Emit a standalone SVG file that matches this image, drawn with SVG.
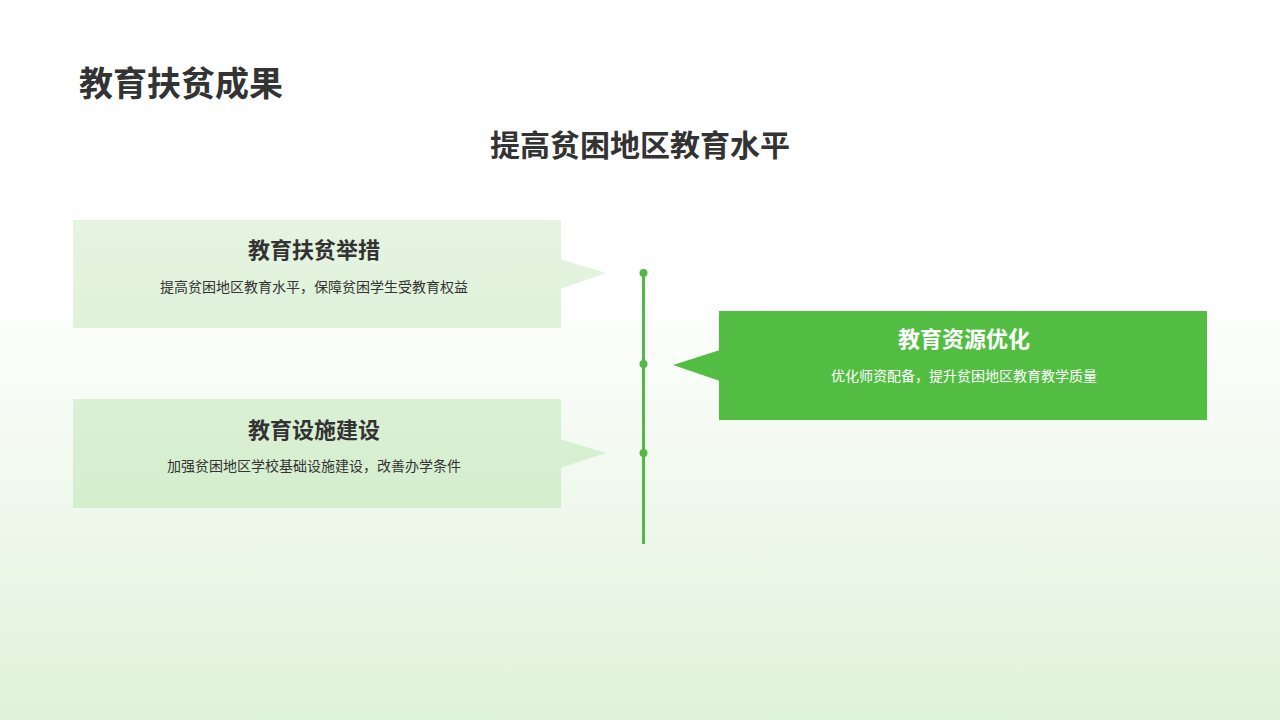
<svg xmlns="http://www.w3.org/2000/svg" width="1280" height="720" viewBox="0 0 1280 720">
<defs>
<linearGradient id="bg" x1="0" y1="0" x2="0" y2="1">
<stop offset="0.4" stop-color="#ffffff"/>
<stop offset="1" stop-color="#dff2da"/>
</linearGradient>
<linearGradient id="lb" gradientUnits="userSpaceOnUse" x1="0" y1="220" x2="0" y2="508">
<stop offset="0" stop-color="#e6f4e2"/>
<stop offset="1" stop-color="#d4eecd"/>
</linearGradient>
</defs>
<style>
text{font-family:"Noto Sans CJK SC","Noto Sans",sans-serif}
.h{font-size:22px;font-weight:bold;fill:#333;text-anchor:middle}
.d{font-size:14px;fill:#333;text-anchor:middle}
.box{fill:url(#lb)}
</style>
<rect width="1280" height="720" fill="url(#bg)"/>
<text x="79" y="96" font-size="34" font-weight="bold" fill="#333">教育扶贫成果</text>
<text x="640" y="156" font-size="30" font-weight="bold" fill="#333" text-anchor="middle">提高贫困地区教育水平</text>
<g id="connectors">
<line x1="643.5" y1="273" x2="643.5" y2="544" stroke="#52b944" stroke-width="3"/>
<circle cx="643.5" cy="273" r="4" fill="#52b944"/>
<circle cx="643.5" cy="364" r="4" fill="#52b944"/>
<circle cx="643.5" cy="453" r="4" fill="#52b944"/>
</g>
<g id="n1">
<rect class="box" x="73" y="220" width="488" height="108"/>
<polygon class="box" points="560,259 606,273 560,289"/>
<text class="h" x="314" y="258">教育扶贫举措</text>
<text class="d" x="314" y="292">提高贫困地区教育水平，保障贫困学生受教育权益</text>
</g>
<g id="n2">
<rect class="box" x="73" y="399" width="488" height="109"/>
<polygon class="box" points="560,439 606,453 560,468"/>
<text class="h" x="314" y="438">教育设施建设</text>
<text class="d" x="314" y="471">加强贫困地区学校基础设施建设，改善办学条件</text>
</g>
<g id="n3">
<rect x="719" y="311" width="488" height="109" fill="#52bd42"/>
<polygon points="720,350 673,365 720,381" fill="#52bd42"/>
<text class="h" x="964" y="347" style="fill:#fff">教育资源优化</text>
<text class="d" x="964" y="381" style="fill:#fff">优化师资配备，提升贫困地区教育教学质量</text>
</g>
</svg>
